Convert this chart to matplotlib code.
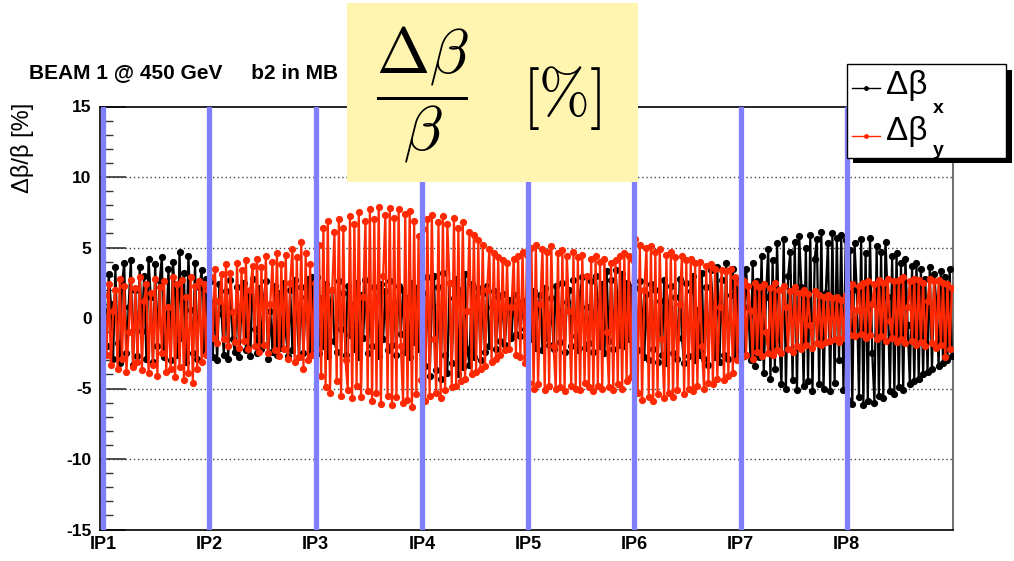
import numpy as np
import matplotlib
matplotlib.use("Agg")
import matplotlib.pyplot as plt
from matplotlib.patches import Rectangle
from matplotlib.lines import Line2D

plt.rcParams["axes.unicode_minus"] = False
plt.rcParams["mathtext.fontset"] = "cm"

# ---------------- data ----------------
ip_labels = ["IP1", "IP2", "IP3", "IP4", "IP5", "IP6", "IP7", "IP8"]
ip_pos = [0, 1, 2, 3, 4, 5, 6, 7]          # octant units
y_ticks = [-15, -10, -5, 0, 5, 10, 15]

# Delta beta_x [%], samples along each octant
dbx_oct1 = [0.5, -2.0, 3.1, 1.0, -2.9, 3.6, -1.8, -3.2, 2.4, 3.9, -2.5, 0.8, 4.1, -3.3, 2.0, -2.7,
            3.6, -0.9, 3.0, -2.9, 4.2, 1.5, -3.1, 3.8, -2.0, 2.6, 4.3, -2.8, -1.2, 3.5, -3.0, 4.0,
            1.8, -2.6, 4.7, -1.4, 3.2, -3.1, 4.4, 0.6, -2.5, 3.9, -2.9, 2.2, 3.4, -2.4, 2.8, -2.2]
dbx_oct2 = [2.6, -2.8, 1.2, -3.0, 2.4, 0.3, -2.6, 1.9, -2.9, 2.7, -1.5, -2.4, 2.2, -2.8, 0.9, 2.5,
            -2.3, 1.6, -2.7, 2.8, -0.8, -2.5, 2.1, -2.2, 1.3, 2.6, -2.9, 0.5, -2.4, 2.3, -2.6, 1.8,
            -2.1, 2.5, -1.0, -2.7, 2.0, -2.3, 2.7, 0.4, -2.8, 2.2, -2.5, 1.5, 2.8, -2.6, 2.9, -2.4]
dbx_oct3 = [2.9, -2.5, 1.4, -2.0, 2.4, -2.7, 0.6, 2.0, -1.6, -2.4, 2.6, -0.8, 1.8, -2.6, 2.3, -1.2,
            0.9, -2.2, 2.5, -2.8, 1.6, -1.4, 2.7, -2.5, 0.5, -2.0, 2.2, 1.2, -2.7, 2.4, -1.5, 1.9,
            -2.3, 2.6, -1.9, 1.0, -2.6, 2.3, -1.1, 2.0, -2.4, 1.4, -2.8, 2.5, -1.7, 2.1, -2.2, 1.5]
dbx_oct4 = [1.8, -3.4, 2.9, -4.1, 0.9, 3.0, -3.7, 2.2, -4.3, 3.2, -2.6, -3.9, 2.5, -3.2, 1.4, 2.8,
            -4.0, 2.0, -3.5, 3.1, -2.2, -3.3, 2.4, -2.8, 1.2, 2.1, -3.0, 1.8, -2.4, 2.3, -2.0, 0.8,
            1.9, -2.2, 1.5, -1.6, 1.7, -1.9, 0.6, 1.3, -1.4, 1.6, -1.1, 1.0, -1.3, 1.2, -0.8, 0.9]
dbx_oct5 = [1.2, -1.5, 1.9, -2.1, 0.7, 1.6, -2.3, 2.1, -1.4, -1.9, 1.4, -2.2, 2.3, 0.5, -1.7, 2.5,
            -2.4, 1.1, 2.0, -2.0, 2.7, -1.3, -2.3, 1.8, 2.9, -2.1, 0.8, -1.8, 2.6, -2.4, 3.0, 1.2,
            -2.0, 2.4, -2.5, 3.3, -1.6, 2.7, -2.2, 3.4, 1.0, -1.9, 3.1, -2.0, 2.5, -1.5, 2.2, -1.2]
dbx_oct6 = [2.1, -2.3, 2.6, 0.4, -2.8, 1.7, -3.0, 2.4, -2.2, 2.0, -3.1, 1.2, -2.6, 2.7, -3.2, 0.8,
            2.3, -2.5, 1.5, -2.9, 2.8, -1.4, -3.2, 2.5, -2.7, 1.9, 3.0, -3.0, 0.6, -2.6, 3.2, -2.9,
            2.2, -3.3, 3.4, 1.0, -2.8, 3.6, -3.1, 2.7, -2.6, 3.9, -2.9, 1.6, 3.5, -2.7, 2.8, -2.3]
dbx_oct7 = [3.1, -2.7, 3.5, 0.8, -3.0, 3.9, -3.4, 2.6, -2.8, 4.4, -3.9, 1.5, 4.9, -4.3, 4.1, -3.6,
            5.3, -1.5, -4.7, 5.6, -5.0, 3.0, 4.7, -4.4, 5.4, -5.1, 5.8, 2.2, -4.8, 5.0, -4.5, 5.9,
            -5.2, 4.2, 5.6, -4.7, 6.1, -5.0, 1.8, 5.3, -5.2, 6.0, -4.6, 5.7, -3.0, 5.9, -5.1, 5.5]
dbx_oct8 = [-5.8, 4.8, -6.1, 5.3, 2.0, -5.6, 5.6, -6.2, 4.6, -5.9, 5.7, -2.5, -6.0, 5.1, -5.5, 4.7,
            -5.7, 5.4, 1.5, -5.2, 4.4, -5.4, 4.6, -4.9, 3.9, -5.1, 4.2, -0.5, -4.7, 3.7, -4.5, 3.9,
            -4.3, 3.5, -4.0, 2.8, -3.8, 3.6, -3.6, 3.1, 1.0, -3.4, 3.3, -3.2, 2.9, -3.0, 3.5, -2.7]

# Delta beta_y [%], samples along each octant
dby_oct1 = [1.6, -2.6, 2.4, -3.3, 0.5, 2.0, -3.6, 2.8, -2.9, 2.3, -3.8, -1.0, 2.7, -3.5, 2.1, -3.1,
            2.9, -3.7, 1.2, 2.4, -3.9, 1.8, -3.3, 2.8, -4.1, 2.2, -2.5, 2.6, -3.8, 0.8, -3.6, 2.9,
            -4.2, 2.4, -3.5, 2.7, -4.4, 1.5, -3.9, 2.9, -4.6, 2.3, -3.6, 2.6, -3.1, 2.4, -2.6, 2.0]
dby_oct2 = [2.9, -1.4, 3.5, -1.8, 1.2, 3.1, -1.5, 3.8, -2.0, 3.2, 0.4, -1.7, 3.9, -2.1, 3.4, -1.6,
            4.1, -2.2, 2.0, 3.7, -2.0, 4.2, -2.4, 3.6, -1.9, 4.4, -2.5, 1.0, 4.0, -2.3, 4.6, -2.7,
            3.8, -2.2, 4.5, -2.9, 2.5, 4.9, -3.1, 4.3, -2.8, 5.4, -3.6, 4.6, -3.0, 3.8, -2.6, 2.5]
dby_oct3 = [-2.2, 5.2, -4.1, 6.4, -4.9, 6.9, -5.3, 2.0, 6.1, -4.5, 7.0, -5.5, 6.4, -3.0, -5.1, 7.2,
            -5.7, 6.7, -4.8, 7.5, -5.6, 1.5, 6.9, -5.2, 7.7, -5.9, 7.0, -5.3, 7.9, -6.1, 3.0, 7.3,
            -5.5, 7.8, -6.2, 7.1, -5.6, 7.7, -2.0, -6.0, 7.4, -5.8, 7.6, -6.3, 6.9, -5.4, 5.8, -4.4]
dby_oct4 = [6.3, -5.9, 7.0, -5.5, 7.3, -1.5, -5.3, 6.8, -5.7, 7.2, -5.1, 6.7, 2.5, -4.9, 7.1, -4.8,
            6.4, -4.5, 6.8, -4.3, 0.5, 6.1, -4.0, 5.9, -3.8, 5.5, -3.6, 5.2, -3.4, 2.0, 4.9, -3.1,
            4.6, -2.9, 4.3, -2.6, 4.1, -2.3, 3.9, -2.2, 0.8, 4.2, -2.6, 4.4, -2.8, 4.7, -3.2, 4.5]
dby_oct5 = [-4.6, 5.0, -5.0, 5.2, -4.7, 1.0, 4.9, -5.1, 4.7, -4.8, 5.1, -2.0, -5.0, 4.6, -4.9, 4.8,
            -5.2, 4.4, 0.5, -4.8, 4.7, -5.0, 4.3, -5.1, 4.5, -4.6, 3.0, -4.9, 4.2, -5.2, 4.4, -4.8,
            4.0, -5.0, 4.2, -1.0, -4.9, 3.9, -5.1, 4.1, -4.7, 4.4, -5.0, 4.6, -4.5, 4.4, -4.2, 4.1]
dby_oct6 = [5.6, -5.3, 5.2, -5.8, 2.0, 5.0, -5.6, 5.1, -5.9, 4.7, -5.4, 4.9, -1.5, -5.7, 4.5, -5.3,
            4.7, -5.6, 4.3, -5.1, 1.0, 4.4, -5.4, 4.1, -5.0, 4.2, -5.2, 3.9, -4.8, 4.0, -2.0, -5.0,
            3.7, -4.6, 3.8, -4.7, 3.5, -4.3, 0.8, 3.4, -4.4, 3.3, -4.1, 3.5, -3.9, 2.9, -3.0, 2.5]
dby_oct7 = [-2.8, 2.6, -2.6, 2.3, 0.5, -2.9, 2.5, -2.4, 2.2, -2.7, 2.4, -1.0, -2.5, 2.1, -2.6, 2.5,
            -2.3, 2.0, -2.5, 2.3, 0.8, -2.2, 1.9, -2.4, 2.2, -2.0, 1.8, -2.2, 2.0, -1.9, 1.7, -0.5,
            -2.1, 1.9, -1.8, 1.6, -1.9, 1.5, -1.7, 1.6, -1.6, 1.4, -1.5, 1.5, -1.7, 1.3, -1.4, 1.6]
dby_oct8 = [2.2, -1.2, 2.4, -1.3, 0.6, 2.3, -1.1, 2.5, -1.4, 2.6, -1.2, 1.0, 2.4, -1.5, 2.7, -1.3,
            2.5, -1.6, 2.8, -0.2, -1.4, 2.6, -1.7, 2.7, -1.5, 2.9, -1.8, 0.8, 2.6, -1.6, 2.8, -1.9,
            2.7, -1.7, 2.5, -2.0, 1.2, 2.8, -1.8, 2.6, -2.1, 2.7, -1.9, 2.5, -2.8, 2.4, -2.2, 2.1]

dbx_octants = [dbx_oct1, dbx_oct2, dbx_oct3, dbx_oct4, dbx_oct5, dbx_oct6, dbx_oct7, dbx_oct8]
dby_octants = [dby_oct1, dby_oct2, dby_oct3, dby_oct4, dby_oct5, dby_oct6, dby_oct7, dby_oct8]


def along_ring(octants):
    """Longitudinal positions (in octant units) of the samples of each octant."""
    s, v = [], []
    for k, vals in enumerate(octants):
        n = len(vals)
        s.extend(k + (np.arange(n) + 0.5) / n)
        v.extend(vals)
    return np.array(s), np.array(v)


sx, dbx = along_ring(dbx_octants)
sy, dby = along_ring(dby_octants)

# ---------------- figure ----------------
W, H = 1014, 561
fig = plt.figure(figsize=(W / 100, H / 100), dpi=100)
fig.patch.set_facecolor("white")


def fx(px):
    return px / W


def fy(py):
    return 1 - py / H


ax = fig.add_axes([fx(100), fy(529.5), fx(953) - fx(100), fy(106.5) - fy(529.5)])
ax.set_xlim(-0.03, 8.0)
ax.set_ylim(-15, 15)

red = "#ff2800"
ax.plot(sx, dbx, color="black", lw=1.6, marker="o", ms=5.2, mew=0, zorder=3)
ax.plot(sy, dby, color=red, lw=1.6, marker="o", ms=5.2, mew=0, zorder=4)

for p in ip_pos:
    ax.axvline(p, color="#8080ff", lw=3.8, zorder=5)

# grid on major y
for v in [-10, -5, 5, 10]:
    ax.axhline(v, color="#444444", lw=1.0, ls=(0, (1, 2)), zorder=1)

ax.set_yticks(y_ticks)
ax.set_yticks(np.arange(-15, 16, 1), minor=True)
ax.set_xticks(ip_pos)
ax.set_xticklabels(ip_labels)
ax.tick_params(axis="y", which="major", direction="in", length=19, width=1.2,
               color="#333333", pad=6)
ax.tick_params(axis="y", which="minor", direction="in", length=9, width=1.0,
               color="#333333")
ax.tick_params(axis="x", which="both", length=0, pad=5)
for lab in ax.get_yticklabels():
    lab.set_fontfamily("Liberation Sans")
    lab.set_fontweight("bold")
    lab.set_fontsize(12.5)
for lab in ax.get_xticklabels():
    lab.set_fontfamily(["Liberation Sans Narrow", "Liberation Sans"])
    lab.set_fontweight("bold")
    lab.set_fontsize(13)

for sp in ax.spines.values():
    sp.set_linewidth(1.2)
    sp.set_color("black")
ax.spines["right"].set_color("#555555")

# title and y-label
fig.text(fx(29), fy(78), "BEAM 1 @ 450 GeV     b2 in MB", fontfamily="Liberation Sans",
         fontweight="bold", fontsize=15, ha="left", va="baseline")
fig.text(fx(22), fy(103), "\u0394\u03b2/\u03b2 [%]", fontfamily="Liberation Sans",
         fontsize=17, rotation=90, ha="center", va="top")

# legend (ROOT style with shadow)
fig.patches.append(Rectangle((fx(853), fy(163)), fx(1012) - fx(853), fy(70) - fy(163),
                             transform=fig.transFigure, facecolor="black",
                             edgecolor="none", zorder=10))
fig.patches.append(Rectangle((fx(847), fy(158)), fx(1006) - fx(847), fy(64) - fy(158),
                             transform=fig.transFigure, facecolor="white",
                             edgecolor="black", lw=1.0, zorder=11))
for py, col in [(88, "black"), (136, red)]:
    fig.lines.append(Line2D([fx(852), fx(880)], [fy(py), fy(py)], transform=fig.transFigure,
                            color=col, lw=1.0, zorder=12))
    fig.lines.append(Line2D([fx(866)], [fy(py)], transform=fig.transFigure, color=col,
                            marker="o", ms=3.5, mew=0, zorder=12))
fig.text(fx(886), fy(94), "\u0394\u03b2", fontfamily="Liberation Sans", fontsize=24,
         ha="left", va="baseline", zorder=12)
fig.text(fx(933), fy(113), "x", fontfamily="Liberation Sans", fontweight="bold",
         fontsize=14, ha="left", va="baseline", zorder=12)
fig.text(fx(886), fy(140), "\u0394\u03b2", fontfamily="Liberation Sans", fontsize=24,
         ha="left", va="baseline", zorder=12)
fig.text(fx(933), fy(155), "y", fontfamily="Liberation Sans", fontweight="bold",
         fontsize=14, ha="left", va="baseline", zorder=12)

# yellow formula box on top
fig.patches.append(Rectangle((fx(347), fy(182)), fx(638) - fx(347), fy(3) - fy(182),
                             transform=fig.transFigure, facecolor="#fff5b0",
                             edgecolor="none", zorder=20))
fig.text(fx(422), fy(95), r"$\dfrac{\Delta\beta}{\beta}$", fontsize=46,
         ha="center", va="center", zorder=21)
fig.text(fx(562), fy(98), r"$[\%]$", fontsize=44, ha="center", va="center", zorder=21)

fig.savefig("out.png", dpi=100, facecolor="white")
